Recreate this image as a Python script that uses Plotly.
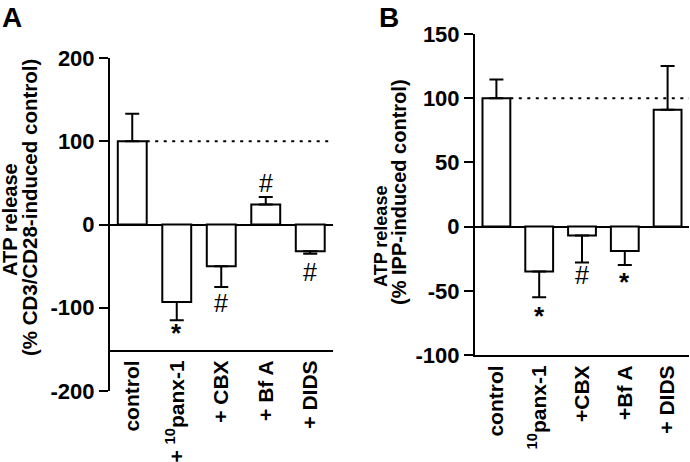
import plotly.graph_objects as go

# ---- data ----
cats_a = ["control", "+ <sup>10</sup>panx-1", "+ CBX", "+ Bf A", "+ DIDS"]
vals_a = [100, -93, -50, 24, -32]
err_a = [33, 22, 25, 9, 3]
sig_a = ["", "*", "#", "#", "#"]
sig_y_a = [None, -130, -94, 50, -57]

cats_b = ["control", "<sup>10</sup>panx-1", "+CBX", "+Bf A", "+ DIDS"]
vals_b = [100, -35, -7, -19, 91]
err_b = [14.5, 20, 21, 11, 34]
sig_b = ["", "*", "#", "*", ""]
sig_y_b = [None, -70, -38, -43, None]

ytick_a = [-200, -100, 0, 100, 200]
ytick_b = [-100, -50, 0, 50, 100, 150]

FONT = "Liberation Sans, Arial, Helvetica, sans-serif"
W, H = 690, 462

def up(v, e):
    return [x if val >= 0 else 0 for val, x in zip(v, e)]

def down(v, e):
    return [x if val < 0 else 0 for val, x in zip(v, e)]

fig = go.Figure()
for v, e, xa, ya in [(vals_a, err_a, "x", "y"), (vals_b, err_b, "x2", "y2")]:
    fig.add_trace(go.Bar(
        x=list(range(len(v))), y=v, width=0.65,
        marker=dict(color="white", line=dict(color="black", width=2)),
        error_y=dict(type="data", symmetric=False, array=up(v, e), arrayminus=down(v, e),
                     color="black", thickness=2, width=7),
        xaxis=xa, yaxis=ya, showlegend=False, hoverinfo="skip",
    ))

# domains (paper)
xa_dom = [110 / W, 332.5 / W]
ya_dom = [1 - 391 / H, 1 - 58 / H]
xb_dom = [475 / W, 689 / W]
yb_dom = [1 - 355 / H, 1 - 34 / H]
ra = [-200, 200]
rb = [-100, 150]
xaxis_line_a = -152
pos_a = ya_dom[0] + (ya_dom[1] - ya_dom[0]) * (xaxis_line_a - ra[0]) / (ra[1] - ra[0])

ytickfont = dict(family=FONT, size=22, color="black", weight="bold")
xtickfont = dict(family=FONT, size=21, color="black", weight="bold")

def xax(dom, ticktext, **kw):
    d = dict(domain=dom, range=[-0.5, 4.5], showline=True, linecolor="black", linewidth=2,
             ticks="", tickvals=list(range(len(ticktext))), ticktext=ticktext,
             tickangle=-90, tickfont=xtickfont, showgrid=False, zeroline=False,
             automargin=False, fixedrange=True)
    d.update(kw)
    return d

def yax(dom, rng, tv, anchor):
    return dict(domain=dom, range=rng, tickvals=tv, ticktext=[str(t) for t in tv],
                ticks="outside", ticklen=9, tickwidth=2,
                tickcolor="black", showline=True, linecolor="black", linewidth=2,
                zeroline=True, zerolinecolor="black", zerolinewidth=2, showgrid=False,
                tickfont=ytickfont, anchor=anchor, automargin=False, fixedrange=True)

fig.update_layout(
    width=W, height=H, margin=dict(l=0, r=0, t=0, b=0),
    paper_bgcolor="white", plot_bgcolor="white",
    bargap=0,
    xaxis=xax(xa_dom, cats_a, anchor="free", position=pos_a),
    yaxis=yax(ya_dom, ra, ytick_a, "x"),
    xaxis2=xax(xb_dom, cats_b, anchor="y2"),
    yaxis2=yax(yb_dom, rb, ytick_b, "x2"),
)

# dotted reference lines at 100 %
fig.add_shape(type="line", xref="x", yref="y", x0=0.325, x1=4.5, y0=100, y1=100,
              line=dict(color="black", width=2, dash="3px,5.5px"))
fig.add_shape(type="line", xref="x2", yref="y2", x0=0.325, x1=4.5, y0=100, y1=100,
              line=dict(color="black", width=2, dash="3px,5.5px"))

# significance marks
for sig, sy, xr, yr in [(sig_a, sig_y_a, "x", "y"), (sig_b, sig_y_b, "x2", "y2")]:
    for i, (s, yy) in enumerate(zip(sig, sy)):
        if s:
            fig.add_annotation(x=i, y=yy, xref=xr, yref=yr, text=s, showarrow=False,
                               xanchor="center", yanchor="middle",
                               font=dict(family=FONT, size=26 if s == "*" else 25, color="black",
                                         weight="bold" if s == "*" else "normal"))

# panel letters
for letter, px, py in [("A", 12, 17), ("B", 389, 17)]:
    fig.add_annotation(x=px / W, y=1 - py / H, xref="paper", yref="paper", text=letter,
                       showarrow=False, xanchor="center", yanchor="middle",
                       font=dict(family=FONT, size=28, color="black", weight="bold"))

# y-axis titles
for txt, px, py, fs in [("ATP release", 10, 220, 20), ("(% CD3/CD28-induced control)", 29, 208, 20.5),
                        ("ATP release", 381, 237, 18), ("(% IPP-induced control)", 399, 192, 20)]:
    fig.add_annotation(x=px / W, y=1 - py / H, xref="paper", yref="paper", text=txt,
                       textangle=-90, showarrow=False, xanchor="center", yanchor="middle",
                       font=dict(family=FONT, size=fs, color="black", weight="bold"))

fig.write_html("out.html", config={"displayModeBar": False, "staticPlot": True},
               post_script="document.body.style.margin='0';document.body.style.padding='0';")
